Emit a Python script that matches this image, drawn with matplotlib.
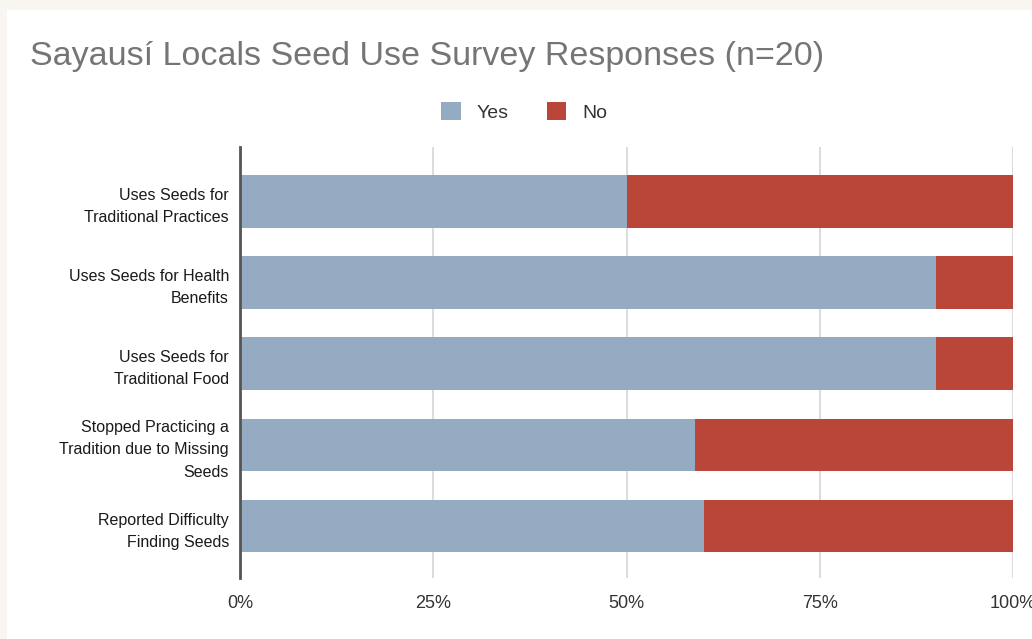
import matplotlib.pyplot as plt
from matplotlib.patches import Rectangle

plt.rcParams['font.family'] = ['Liberation Sans', 'DejaVu Sans']

# survey data (share of respondents, %)
categories = ['Uses Seeds for\nTraditional Practices',
              'Uses Seeds for Health\nBenefits',
              'Uses Seeds for\nTraditional Food',
              'Stopped Practicing a\nTradition due to Missing\nSeeds',
              'Reported Difficulty\nFinding Seeds']
yes_pct = [50, 90, 90, 58.8, 60]
no_pct = [50, 10, 10, 41.2, 40]
xticks = [0, 25, 50, 75, 100]
xtick_labels = ['0%', '25%', '50%', '75%', '100%']

yes_color = '#94abc2'
no_color = '#b94639'

fig = plt.figure(figsize=(10.32, 6.39), dpi=100)
fig.patch.set_facecolor('#f9f5f1')
# white card
card = Rectangle((7/1032, 0), 1, 1 - 10/639, transform=fig.transFigure,
                 facecolor='white', edgecolor='none', zorder=-10)
fig.add_artist(card)

ax = fig.add_axes([240/1032, 1 - 578/639, 773/1032, (578 - 147)/639])
ax.set_zorder(2)
ax.set_facecolor('none')

ypos = list(range(len(categories)))
ax.barh(ypos, yes_pct, height=0.65, color=yes_color, label='Yes', zorder=3)
ax.barh(ypos, no_pct, left=yes_pct, height=0.65, color=no_color, label='No', zorder=3)

ax.set_xlim(0, 100)
ax.set_ylim(4.64, -0.67)
ax.set_yticks(ypos)
ax.set_yticklabels(categories, fontsize=11.5, color='#1a1a1a', linespacing=1.6)
ax.set_xticks(xticks)
ax.set_xticklabels(xtick_labels, fontsize=13, color='#333333')
ax.tick_params(axis='both', length=0)
ax.tick_params(axis='x', pad=12)
ax.tick_params(axis='y', pad=8)

ax.grid(axis='x', color='#d9d9d9', linewidth=1.3, zorder=0)
for s in ['top', 'right', 'bottom']:
    ax.spines[s].set_visible(False)
ax.spines['left'].set_color('#555555')
ax.spines['left'].set_linewidth(2)
ax.spines['left'].set_zorder(4)

fig.text(30/1032, 1 - 57/639, 'Sayausí Locals Seed Use Survey Responses (n=20)',
         fontsize=24.5, color='#757575', va='center', ha='left')

fig.legend(loc='center', bbox_to_anchor=(524/1032, 1 - 112/639), ncol=2, frameon=False,
           fontsize=14, handlelength=1.0, handleheight=1.0, handletextpad=0.8,
           columnspacing=2.0, labelcolor='#333333')

fig.savefig('out.png', dpi=100, facecolor=fig.get_facecolor())
